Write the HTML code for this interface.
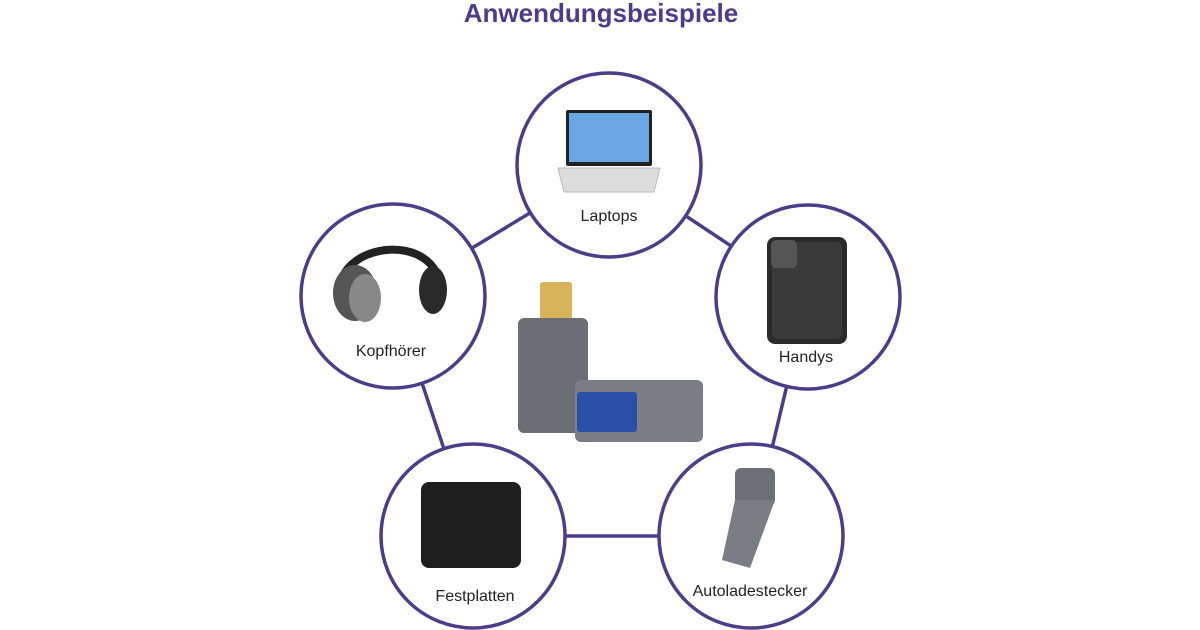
<!DOCTYPE html>
<html><head><meta charset="utf-8"><style>
html,body{margin:0;padding:0;background:#fff;}
svg{display:block}
</style></head><body>
<svg width="1200" height="630" viewBox="0 0 1200 630" xmlns="http://www.w3.org/2000/svg">
<rect width="1200" height="630" fill="#fff"/>
<text x="601" y="22" text-anchor="middle" font-family="Liberation Sans, sans-serif" font-weight="bold" font-size="26" fill="#4b3d8a">Anwendungsbeispiele</text>
<g stroke="#4b3d8a" stroke-width="3.5" fill="none">
<line x1="609" y1="165" x2="808" y2="297"/>
<line x1="609" y1="165" x2="393" y2="296"/>
<line x1="393" y1="296" x2="473" y2="536"/>
<line x1="473" y1="536" x2="751" y2="536"/>
<line x1="751" y1="536" x2="808" y2="297"/>
</g>
<g stroke="#4b3d8a" stroke-width="3.5" fill="#fff">
<circle cx="609" cy="165" r="92"/>
<circle cx="393" cy="296" r="92"/>
<circle cx="808" cy="297" r="92"/>
<circle cx="473" cy="536" r="92"/>
<circle cx="751" cy="536" r="92"/>
</g>
<!-- laptop -->
<rect x="566" y="110" width="86" height="56" rx="2" fill="#222"/>
<rect x="569" y="113" width="80" height="49" fill="#4a8fd8"/>
<rect x="569" y="113" width="80" height="49" fill="#9cc8f0" opacity="0.4"/>
<polygon points="558,168 660,168 654,192 564,192" fill="#ddd" stroke="#bbb"/>
<!-- headphones -->
<path d="M340 300 C330 240 440 230 440 290" stroke="#222" stroke-width="8" fill="none"/>
<ellipse cx="355" cy="293" rx="22" ry="28" fill="#555"/>
<ellipse cx="365" cy="298" rx="16" ry="24" fill="#888"/>
<ellipse cx="433" cy="290" rx="14" ry="24" fill="#2a2a2a"/>
<!-- phone -->
<rect x="767" y="237" width="80" height="107" rx="8" fill="#2a2a2a"/>
<rect x="772" y="242" width="70" height="97" rx="6" fill="#3a3a3a"/>
<rect x="771" y="240" width="26" height="28" rx="5" fill="#555"/>
<!-- adapter -->
<rect x="540" y="282" width="32" height="38" rx="3" fill="#d9b35a"/>
<rect x="518" y="318" width="70" height="115" rx="6" fill="#6b6e75"/>
<rect x="575" y="380" width="128" height="62" rx="6" fill="#7a7d84"/>
<rect x="577" y="392" width="60" height="40" rx="3" fill="#2a4fa8"/>
<!-- hard drive -->
<rect x="421" y="482" width="100" height="86" rx="8" fill="#1e1e1e"/>
<!-- car charger -->
<rect x="735" y="468" width="40" height="38" rx="6" fill="#6c6f76"/>
<polygon points="735,500 775,500 750,568 722,560" fill="#7a7d84"/>
<!-- labels -->
<g font-family="Liberation Sans, sans-serif" font-size="16" fill="#222" text-anchor="middle">
<text x="609" y="221">Laptops</text>
<text x="391" y="356">Kopfhörer</text>
<text x="806" y="362">Handys</text>
<text x="475" y="601">Festplatten</text>
<text x="750" y="596">Autoladestecker</text>
</g>
</svg>
</body></html>
